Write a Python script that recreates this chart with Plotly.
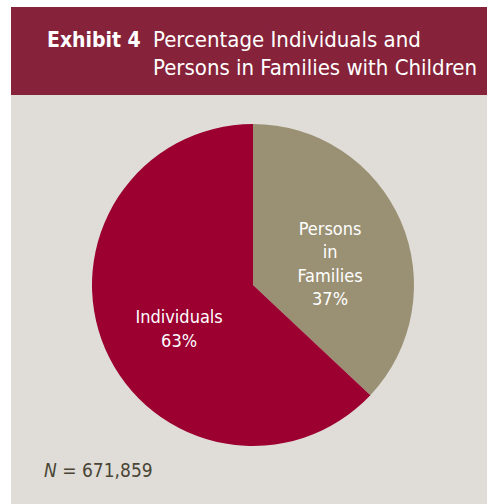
import plotly.graph_objects as go

labels = ["Persons<br>in<br>Families", "Individuals"]
values = [37, 63]
colors = ["#9A9174", "#9B0031"]
title_bold = "Exhibit 4"
title_lines = ["Percentage Individuals and", "Persons in Families with Children"]
note = "<i>N</i> = 671,859"

W, H = 489, 504
FONT = "DejaVu Sans Condensed, Liberation Sans Narrow, Noto Sans, sans-serif"

fig = go.Figure()
fig.add_trace(go.Pie(
    labels=labels, values=values,
    marker=dict(colors=colors, line=dict(width=0)),
    sort=False, direction="clockwise", rotation=0,
    texttemplate=" <br>%{label}<br>%{value}%",
    textposition="inside", insidetextorientation="horizontal",
    textfont=dict(color="white", size=18, family=FONT),
    showlegend=False, hoverinfo="label+value",
    domain=dict(x=[92 / W, 414 / W], y=[1 - 446 / H, 1 - 124 / H]),
))

shapes = [
    dict(type="rect", xref="paper", yref="paper", x0=11 / W, x1=487 / W, y0=0, y1=1 - 95 / H,
         fillcolor="#E0DDD8", line=dict(width=0), layer="below"),
    dict(type="rect", xref="paper", yref="paper", x0=11 / W, x1=487 / W, y0=1 - 95 / H, y1=1 - 7 / H,
         fillcolor="#86233A", line=dict(width=0), layer="below"),
]

annotations = [
    dict(text="<b>" + title_bold + "</b>", x=45 / W, y=1 - 40 / H, xref="paper", yref="paper",
         xanchor="left", yanchor="middle", showarrow=False,
         font=dict(color="white", size=21, family=FONT)),
    dict(text=title_lines[0], x=151 / W, y=1 - 40 / H, xref="paper", yref="paper",
         xanchor="left", yanchor="middle", showarrow=False,
         font=dict(color="white", size=22, family=FONT)),
    dict(text=title_lines[1], x=151 / W, y=1 - 68 / H, xref="paper", yref="paper",
         xanchor="left", yanchor="middle", showarrow=False,
         font=dict(color="white", size=22, family=FONT)),
    dict(text=note, x=42 / W, y=1 - 470 / H, xref="paper", yref="paper",
         xanchor="left", yanchor="middle", showarrow=False,
         font=dict(color="#4A4535", size=19, family=FONT)),
]

fig.update_layout(
    width=W, height=H,
    margin=dict(l=0, r=0, t=0, b=0),
    paper_bgcolor="white", plot_bgcolor="white",
    shapes=shapes, annotations=annotations,
)
fig.write_html(
    "out.html",
    config={"displayModeBar": False},
    post_script="document.body.style.margin='0';document.body.style.overflow='hidden';",
)
